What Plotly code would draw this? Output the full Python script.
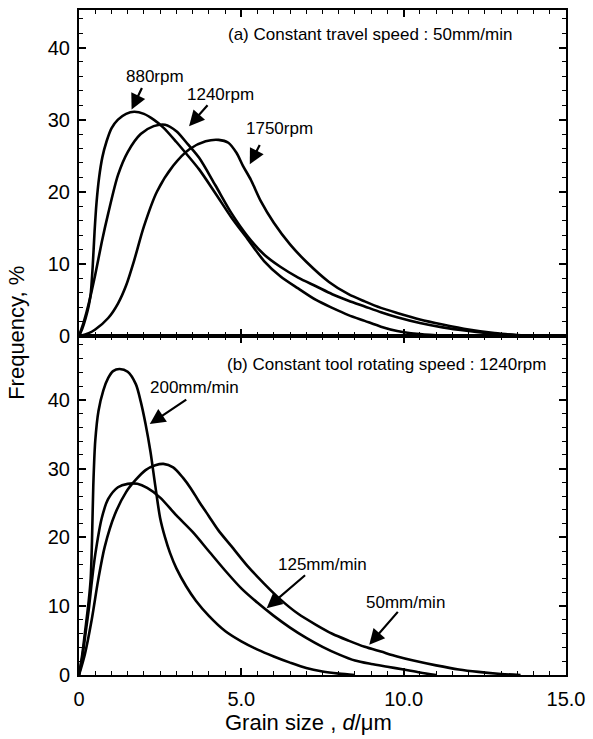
import plotly.graph_objects as go

# ---------------- data ----------------
# (a) constant travel speed 50 mm/min
x_880 = [0, 0.1, 0.2, 0.3, 0.36, 0.42, 0.48, 0.54, 0.62, 0.72, 0.85, 1.0, 1.2, 1.45, 1.7, 2.0,
         2.3, 2.6, 3.0, 3.3, 3.7, 4.2, 4.7, 5.2, 5.7, 6.2, 6.75, 7.3, 7.8, 8.3, 8.8, 9.3, 9.8,
         10.4, 11.0, 11.5]
y_880 = [0, 1.0, 2.4, 4.2, 5.8, 9.5, 14.5, 18.5, 22.0, 24.8, 27.0, 28.8, 30.0, 30.8, 31.1, 30.8,
         30.0, 28.9, 26.9, 25.3, 23.1, 19.8, 16.4, 13.4, 10.4, 8.3, 6.6, 5.0, 3.9, 2.9, 2.1, 1.3, 0.7,
         0.3, 0.1, 0]

x_1240 = [0, 0.15, 0.3, 0.5, 0.7, 0.9, 1.2, 1.5, 1.9, 2.3, 2.65, 3.0, 3.35, 3.7, 4.2, 4.7, 5.2,
          5.7, 6.2, 6.75, 7.3, 7.8, 8.3, 8.8, 9.3, 9.8, 10.5, 11.2, 12.0, 12.8, 13.5, 14.0]
y_1240 = [0, 2.0, 4.5, 8.5, 13.0, 17.0, 22.3, 25.5, 28.0, 29.1, 29.3, 28.4, 26.6, 24.7, 20.9, 17.0, 13.8,
          11.3, 9.6, 8.1, 6.9, 5.8, 4.9, 4.1, 3.3, 2.6, 1.8, 1.2, 0.7, 0.3, 0.1, 0]

x_1750 = [0, 0.3, 0.5, 0.9, 1.2, 1.45, 1.7, 2.0, 2.4, 2.9, 3.4, 3.9, 4.3, 4.6, 4.85, 5.05, 5.3,
          5.6, 6.0, 6.5, 7.0, 7.7, 8.3, 8.8, 9.3, 9.8, 10.5, 11.2, 12.0, 12.8, 13.5, 14.2]
y_1750 = [0, 0.4, 0.9, 2.5, 4.5, 7.0, 10.5, 15.2, 20.0, 23.6, 25.9, 27.0, 27.2, 26.8, 25.4, 23.6, 21.6,
          18.7, 15.7, 12.7, 10.3, 7.5, 5.8, 4.8, 3.9, 3.2, 2.3, 1.6, 0.9, 0.4, 0.15, 0]

# (b) constant tool rotating speed 1240 rpm
x_200 = [0, 0.1, 0.2, 0.3, 0.36, 0.4, 0.44, 0.5, 0.6, 0.75, 0.9, 1.05, 1.25, 1.5, 1.75, 1.9, 2.05,
         2.2, 2.35, 2.5, 2.65, 2.8, 3.0, 3.3, 3.6, 4.0, 4.5, 5.0, 5.5, 6.0, 6.5, 7.0, 7.5, 8.0, 8.5]
y_200 = [0, 3.0, 6.8, 10.8, 14.0, 19.5, 27.5, 34.0, 38.4, 41.4, 43.2, 44.2, 44.5, 44.1, 42.3, 39.8, 36.5,
         32.5, 27.5, 22.8, 20.0, 17.8, 15.5, 12.9, 10.8, 8.6, 6.4, 4.9, 3.7, 2.7, 1.8, 1.0, 0.5, 0.2, 0]

x_125 = [0, 0.1, 0.2, 0.3, 0.4, 0.5, 0.7, 0.9, 1.2, 1.5, 1.8, 2.1, 2.5, 3.0, 3.5, 4.0, 4.5, 5.0,
         5.5, 6.0, 6.5, 7.0, 7.5, 8.0, 8.5, 9.0, 9.5, 10.0, 10.5, 11.0]
y_125 = [0, 2.5, 6.0, 9.5, 13.8, 17.5, 22.8, 25.6, 27.3, 27.8, 27.8, 27.2, 25.8, 23.2, 20.8, 18.0, 15.2, 12.6,
         10.5, 8.6, 6.9, 5.4, 4.1, 3.0, 2.1, 1.6, 1.2, 0.8, 0.35, 0]

x_50 = [0, 0.18, 0.39, 0.59, 0.79, 1.1, 1.45, 1.75, 2.05, 2.35, 2.6, 2.9, 3.2, 3.45, 3.7, 4.0, 4.3,
        4.7, 5.2, 5.7, 6.2, 6.75, 7.3, 7.8, 8.3, 8.8, 9.3, 9.8, 10.3, 11.0, 11.7, 12.3, 13.0, 13.6]
y_50 = [0, 3.0, 8.0, 13.8, 18.6, 23.3, 26.6, 28.4, 29.8, 30.5, 30.7, 30.2, 28.7, 27.1, 25.2, 23.1, 21.0,
        18.7, 15.8, 13.3, 11.0, 8.9, 7.3, 6.0, 5.0, 4.1, 3.4, 2.7, 2.1, 1.4, 0.8, 0.45, 0.15, 0]

x_tickvals = [0, 5, 10, 15]
x_ticktext = ["0", "5.0", "10.0", "15.0"]
y_tickvals = [0, 10, 20, 30, 40]

# labels: (text, label x, label y, arrow tail x, tail y, head x, head y)
labels_a = [
    ("880rpm", 2.34, 36.0, 1.96, 34.6, 1.62, 31.4),
    ("1240rpm", 4.35, 33.5, 4.0, 32.2, 3.39, 29.1),
    ("1750rpm", 6.17, 28.8, 5.59, 26.7, 5.26, 23.8),
]
labels_b = [
    ("200mm/min", 3.55, 41.8, 3.35, 40.2, 2.18, 36.5),
    ("125mm/min", 7.49, 16.1, 7.01, 14.7, 5.78, 9.7),
    ("50mm/min", 10.05, 10.6, 9.86, 9.4, 8.94, 4.4),
]
title_a = "(a) Constant travel speed : 50mm/min"
title_b = "(b) Constant tool rotating speed : 1240rpm"

FONT = "Liberation Sans, Arial, Helvetica, sans-serif"
LW = 2.6

fig = go.Figure()
for xs, ys in [(x_880, y_880), (x_1240, y_1240), (x_1750, y_1750)]:
    fig.add_trace(go.Scatter(x=xs, y=ys, mode="lines", xaxis="x", yaxis="y",
                             line=dict(color="black", width=LW, shape="spline", smoothing=0.8),
                             showlegend=False, hoverinfo="skip"))
for xs, ys in [(x_200, y_200), (x_125, y_125), (x_50, y_50)]:
    fig.add_trace(go.Scatter(x=xs, y=ys, mode="lines", xaxis="x2", yaxis="y2",
                             line=dict(color="black", width=LW, shape="spline", smoothing=0.8),
                             showlegend=False, hoverinfo="skip"))

split = 340 / 667

common_x = dict(range=[0, 15], showline=True, linewidth=2, linecolor="black", mirror="allticks",
                ticks="inside", ticklen=7, tickwidth=1.5, tickcolor="black",
                tickvals=x_tickvals, ticktext=x_ticktext, showgrid=False, zeroline=False,
                minor=dict(dtick=0.5, ticks="inside", ticklen=4, tickwidth=1.2, tickcolor="black",
                           showgrid=False),
                tickfont=dict(family=FONT, size=20, color="black"), fixedrange=True)
common_y = dict(showline=True, linewidth=2, linecolor="black", mirror="allticks",
                ticks="inside", ticklen=7, tickwidth=1.5, tickcolor="black",
                tickvals=y_tickvals, showgrid=False, zeroline=False,
                minor=dict(dtick=2, ticks="inside", ticklen=4, tickwidth=1.2, tickcolor="black",
                           showgrid=False),
                tickfont=dict(family=FONT, size=20, color="black"), ticklabelstandoff=3,
                fixedrange=True)

fig.update_layout(
    width=593, height=739,
    margin=dict(l=79, r=23, t=8, b=64),
    paper_bgcolor="white", plot_bgcolor="white",
    xaxis=dict(common_x, anchor="y", domain=[0, 1], showticklabels=False),
    xaxis2=dict(common_x, anchor="y2", domain=[0, 1], showticklabels=True, ticklabelstandoff=5),
    yaxis=dict(common_y, anchor="x", domain=[split, 1], range=[0, 45.2]),
    yaxis2=dict(common_y, anchor="x2", domain=[0, split], range=[0, 49.3]),
)

ann = []
lab_font = dict(family=FONT, size=17, color="black")
for (txt, lx, ly, tx, ty, hx, hy), (xr, yr) in \
        [(l, ("x", "y")) for l in labels_a] + [(l, ("x2", "y2")) for l in labels_b]:
    ann.append(dict(x=lx, y=ly, xref=xr, yref=yr, text=txt, showarrow=False, font=lab_font,
                    xanchor="center", yanchor="middle"))
    ann.append(dict(x=hx, y=hy, ax=tx, ay=ty, xref=xr, yref=yr, axref=xr, ayref=yr, text="",
                    showarrow=True, arrowhead=2, arrowsize=1.4, arrowwidth=2.2, arrowcolor="black"))

ann.append(dict(x=4.53, y=41.8, xref="x", yref="y", text=title_a, showarrow=False, font=lab_font,
                xanchor="left", yanchor="middle"))
ann.append(dict(x=4.49, y=45.2, xref="x2", yref="y2", text=title_b, showarrow=False, font=lab_font,
                xanchor="left", yanchor="middle"))

ann.append(dict(x=-0.128, y=0.514, xref="paper", yref="paper", text="Frequency, %", textangle=-90,
                showarrow=False, font=dict(family=FONT, size=22, color="black"),
                xanchor="center", yanchor="middle"))
ann.append(dict(x=0.4715, y=-0.072, xref="paper", yref="paper",
                text="Grain size , <i>d</i>/\u03bcm", showarrow=False,
                font=dict(family=FONT, size=22, color="black"), xanchor="center", yanchor="middle"))

fig.update_layout(annotations=ann)
fig.write_html("out.html")
